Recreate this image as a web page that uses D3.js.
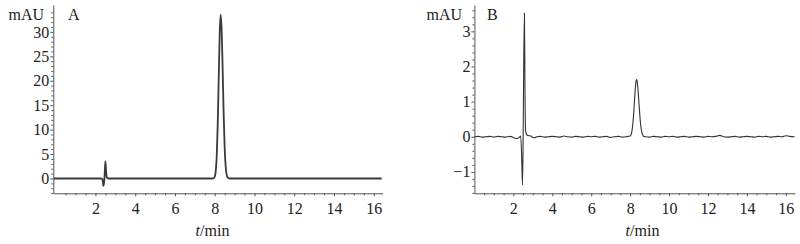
<!DOCTYPE html>
<html>
<head>
<meta charset="utf-8">
<script src="https://cdn.jsdelivr.net/npm/d3@7"></script>
<style>
  html, body { margin: 0; padding: 0; background: #fff; }
  svg { display: block; }
  text { font-family: "Liberation Serif", "Times New Roman", serif; fill: #222; }
</style>
</head>
<body>
<svg id="chart" width="800" height="244"></svg>
<script>
// ---- Panel A data (retention time in min, absorbance in mAU) ----
const timeA = [-0.1, 2.30, 2.36, 2.40, 2.44, 2.47, 2.50, 2.53, 2.56, 2.60, 2.65, 7.85, 7.90, 7.95, 8.00, 8.05, 8.10, 8.15, 8.20, 8.25, 8.30, 8.35, 8.40, 8.45, 8.50, 8.55, 8.60, 8.65, 8.70, 8.75, 16.40];
const mauA  = [0, 0, -0.3, -1.5, -0.6, 1.4, 3.5, 1.8, 0.4, 0.05, 0, 0, 0.01, 0.07, 0.37, 1.47, 4.5, 10.9, 20.3, 29.6, 33.5, 30.2, 22.2, 13.2, 6.4, 2.5, 0.8, 0.2, 0.05, 0, 0];

// ---- Panel B data ----
const timeB = [0.0, 0.2, 0.4, 0.6, 0.8, 1.0, 1.2, 1.4, 1.6, 1.8, 2.0, 2.1, 2.2, 2.3, 2.38, 2.43, 2.47, 2.50, 2.53, 2.57, 2.60, 2.63, 2.70, 2.80, 2.90, 3.00, 3.10, 3.20, 3.40, 3.60, 3.80, 4.00, 4.20, 4.40, 4.60, 4.80, 5.00, 5.20, 5.40, 5.60, 5.80, 6.00, 6.20, 6.40, 6.60, 6.80, 7.00, 7.20, 7.40, 7.60, 7.80, 8.00, 8.05, 8.10, 8.15, 8.20, 8.25, 8.30, 8.33, 8.35, 8.40, 8.45, 8.50, 8.55, 8.60, 8.65, 8.70, 8.80, 9.00, 9.20, 9.40, 9.60, 9.80, 10.00, 10.20, 10.40, 10.60, 10.80, 11.00, 11.20, 11.40, 11.60, 11.80, 12.00, 12.20, 12.40, 12.60, 12.80, 13.00, 13.20, 13.40, 13.60, 13.80, 14.00, 14.20, 14.40, 14.60, 14.80, 15.00, 15.20, 15.40, 15.60, 15.80, 16.00, 16.20, 16.45];
const mauB  = [0.00, 0.01, -0.01, 0.00, 0.01, -0.01, 0.01, 0.00, -0.01, 0.01, -0.02, -0.05, -0.05, -0.02, 0.02, -0.60, -1.37, -0.30, 1.80, 3.52, 1.20, 0.15, 0.05, 0.03, 0.02, -0.02, -0.03, 0.00, 0.01, -0.01, 0.00, 0.01, 0.00, -0.01, 0.02, 0.00, -0.01, 0.01, 0.00, -0.01, 0.01, 0.00, 0.01, -0.01, 0.00, 0.01, -0.02, 0.00, 0.01, -0.01, 0.00, 0.02, 0.06, 0.18, 0.43, 0.81, 1.25, 1.57, 1.63, 1.61, 1.38, 0.99, 0.60, 0.30, 0.13, 0.05, 0.01, 0.00, -0.01, 0.01, 0.00, -0.01, 0.01, 0.00, 0.01, -0.01, 0.00, 0.01, -0.01, 0.00, 0.01, 0.00, -0.01, 0.01, 0.00, 0.01, 0.04, 0.00, -0.01, 0.00, 0.01, -0.01, 0.00, 0.01, 0.00, -0.01, 0.01, 0.00, 0.01, -0.01, 0.00, 0.01, 0.00, 0.03, 0.01, 0.00];

// ---- Tick labels ----
const xTicks  = [2, 4, 6, 8, 10, 12, 14, 16];
const yTicksA = [0, 5, 10, 15, 20, 25, 30];
const yTicksB = [-1, 0, 1, 2, 3];

const svg = d3.select("#chart");
const fmt = d3.format("d");
const FONT = '"Liberation Serif", "Times New Roman", serif';

function styleAxis(a) {
  a.attr("font-family", FONT).attr("font-size", 16);
  a.selectAll("text").style("font-family", FONT).style("font-size", "16px").attr("fill", "#222");
}

function panel(cfg) {
  const x = d3.scaleLinear().domain(cfg.xDomain).range([cfg.left, cfg.right]);
  const y = d3.scaleLinear().domain(cfg.yDomain).range([cfg.bottom, cfg.top]);
  const g = svg.append("g");

  // minor ticks x
  const xMinor = d3.range(0.5, cfg.xDomain[1], 0.5).filter(v => !xTicks.includes(v));
  g.append("g")
    .attr("transform", `translate(0,${cfg.bottom})`)
    .call(d3.axisBottom(x).tickValues(xMinor).tickSize(2).tickFormat(""))
    .call(a => a.select(".domain").remove());
  // minor ticks y
  g.append("g")
    .attr("transform", `translate(${cfg.left},0)`)
    .call(d3.axisLeft(y).tickValues(cfg.yMinor).tickSize(2).tickFormat(""))
    .call(a => a.select(".domain").remove());

  // major axes
  g.append("g")
    .attr("transform", `translate(0,${cfg.bottom})`)
    .call(d3.axisBottom(x).tickValues(xTicks).tickFormat(fmt).tickSize(3).tickPadding(6).tickSizeOuter(0))
    .call(styleAxis);
  g.append("g")
    .attr("transform", `translate(${cfg.left},0)`)
    .call(d3.axisLeft(y).tickValues(cfg.yTicks).tickFormat(fmt).tickSize(3).tickPadding(1).tickSizeOuter(0))
    .call(styleAxis);

  g.selectAll(".tick line, .domain").attr("stroke", "#555").attr("stroke-width", 1);

  // trace
  const pts = cfg.t.map((t, i) => [t, cfg.v[i]]);
  g.append("path")
    .datum(pts)
    .attr("fill", "none")
    .attr("stroke", cfg.color)
    .attr("stroke-width", cfg.lw)
    .attr("stroke-linejoin", "round")
    .attr("d", d3.line().x(d => x(d[0])).y(d => y(d[1])).curve(d3.curveMonotoneX));

  // labels
  g.append("text").attr("x", cfg.mauX).attr("y", 20).attr("text-anchor", "end")
    .style("font-size", "16px").text("mAU");
  g.append("text").attr("x", cfg.letterX).attr("y", 20)
    .style("font-size", "16px").text(cfg.letter);
  const tl = g.append("text").attr("x", cfg.xlabX).attr("y", 236).attr("text-anchor", "middle")
    .style("font-size", "16px");
  tl.append("tspan").style("font-style", "italic").text("t");
  tl.append("tspan").text("/min");
}

panel({
  t: timeA, v: mauA, letter: "A",
  xDomain: [-0.12, 16.45], yDomain: [-3.03, 35.5],
  left: 53.3, right: 382.7, top: 5, bottom: 193.3,
  yTicks: yTicksA, yMinor: d3.range(-3, 36, 1).filter(v => v % 5 !== 0),
  color: "#3a3a3a", lw: 1.8,
  mauX: 44, letterX: 68, xlabX: 212.5
});

panel({
  t: timeB, v: mauB, letter: "B",
  xDomain: [0, 16.47], yDomain: [-1.61, 3.75],
  left: 474.4, right: 795, top: 5, bottom: 193.3,
  yTicks: yTicksB, yMinor: d3.range(-16, 37, 2).map(v => v / 10).filter(v => Math.abs(v - Math.round(v)) > 1e-6),
  color: "#333", lw: 1.1,
  mauX: 462, letterX: 487, xlabX: 642.5
});
</script>
</body>
</html>
